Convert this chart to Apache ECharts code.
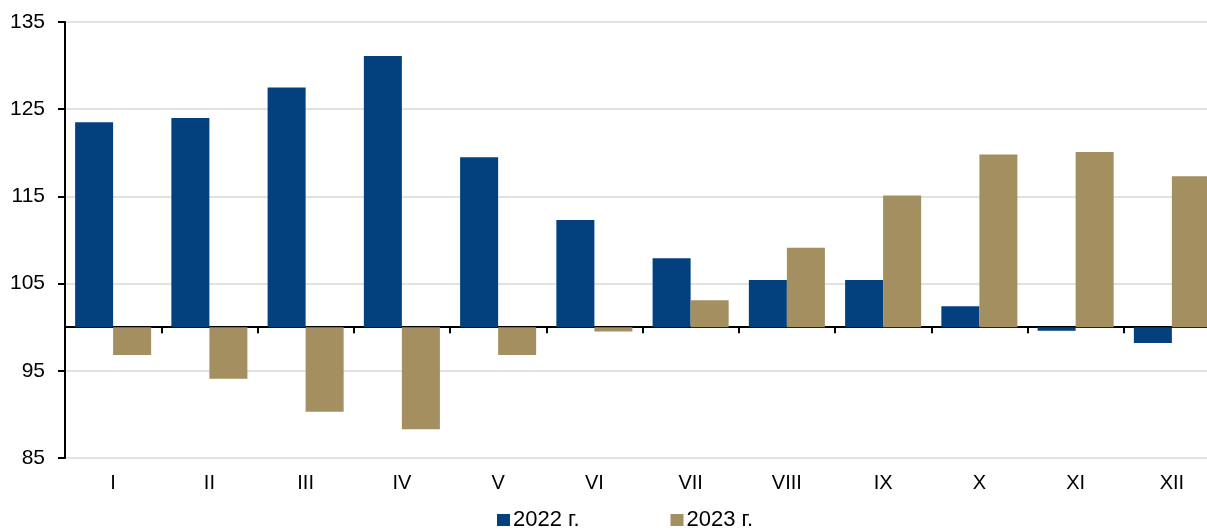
<!DOCTYPE html>
<html>
<head>
<meta charset="utf-8">
<script src="https://cdn.jsdelivr.net/npm/echarts@6/dist/echarts.min.js"></script>
<style>
html,body{margin:0;padding:0;background:#fff;overflow:hidden;width:1207px;height:530px;}
#chart{width:1220px;height:530px;}
</style>
</head>
<body>
<div id="chart"></div>
<script>
const categories = ['I','II','III','IV','V','VI','VII','VIII','IX','X','XI','XII'];
const values2022 = [123.5, 124.0, 127.5, 131.1, 119.5, 112.3, 107.9, 105.4, 105.4, 102.4, 99.6, 98.2];
const values2023 = [96.8, 94.1, 90.3, 88.3, 96.8, 99.5, 103.1, 109.1, 115.1, 119.8, 120.1, 117.3];
const seriesNames = ['2022 г.', '2023 г.'];
const baseValue = 100;
const yMin = 85, yMax = 135, yStep = 10;

const chart = echarts.init(document.getElementById('chart'), null, {renderer:'canvas'});
const font = 'Liberation Sans, Arial, sans-serif';
chart.setOption({
  animation:false,
  grid:{left:65, top:22, bottom:72, right:0, containLabel:false},
  legend:{
    data:seriesNames, left:497, top:509, padding:0, itemWidth:13, itemHeight:12, itemGap:91,
    icon:'rect', textStyle:{fontFamily:font, fontSize:22, color:'#000', padding:[0,0,0,-2]}
  },
  xAxis:[
    {type:'category', data:categories, boundaryGap:true,
     axisLine:{onZero:true, lineStyle:{color:'#000', width:2}},
     axisTick:{show:true, length:6, lineStyle:{color:'#000', width:2}},
     axisLabel:{show:false}, splitLine:{show:false}},
    {type:'category', data:categories, boundaryGap:true, position:'bottom', offset:0,
     axisLine:{show:false}, axisTick:{show:false},
     axisLabel:{show:true, fontFamily:font, fontSize:20, color:'#000', margin:15}}
  ],
  yAxis:{
    type:'value', min:yMin-baseValue, max:yMax-baseValue, interval:yStep,
    axisLine:{show:true, onZero:false, lineStyle:{color:'#000', width:2}},
    axisTick:{show:true, length:7, lineStyle:{color:'#000', width:2}},
    axisLabel:{fontFamily:font, fontSize:21, color:'#000', margin:20,
      formatter:v=>String(Math.round(v+baseValue))},
    splitLine:{show:true, lineStyle:{color:'#d9d9d9', width:1.5}}
  },
  series:[
    {name:seriesNames[0], type:'bar', xAxisIndex:0, data:values2022.map(v=>+(v-baseValue).toFixed(2)),
     itemStyle:{color:'#02417D'}, barGap:'0%', barCategoryGap:'21%'},
    {name:seriesNames[1], type:'bar', xAxisIndex:0, data:values2023.map(v=>+(v-baseValue).toFixed(2)),
     itemStyle:{color:'#A38F5F'}, barGap:'0%', barCategoryGap:'21%'}
  ]
});
</script>
</body>
</html>
